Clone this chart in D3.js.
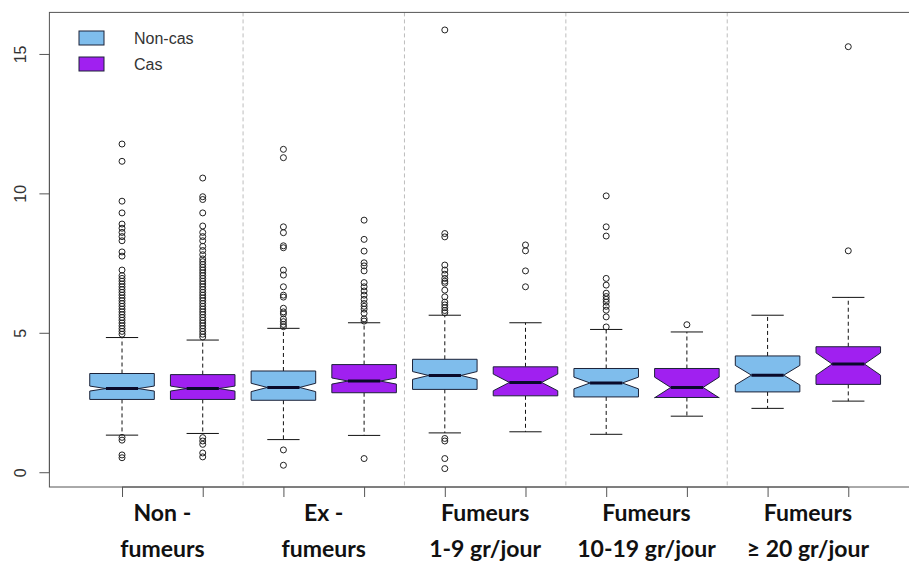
<!DOCTYPE html>
<html>
<head>
<meta charset="utf-8">
<script src="https://cdn.jsdelivr.net/npm/d3@7"></script>
<style>
  body { margin: 0; background: #fff; }
  svg { display: block; }
</style>
</head>
<body>
<div id="chart"></div>
<script>
const width = 909;
const height = 565;

// Données
const categories = [
  ["Non -", "fumeurs"],
  ["Ex -", "fumeurs"],
  ["Fumeurs", "1-9 gr/jour"],
  ["Fumeurs", "10-19 gr/jour"],
  ["Fumeurs", "\u2265 20 gr/jour"]
];
const series = ["Non-cas", "Cas"];
const yTicks = [0, 5, 10, 15];

// [moustache basse, Q1, médiane, Q3, moustache haute, demi-encoche]
const nonCasStats = [
  [1.33, 2.61, 3.00, 3.54, 4.83, 0.09],
  [1.17, 2.58, 3.04, 3.63, 5.16, 0.15],
  [1.41, 2.97, 3.47, 4.05, 5.63, 0.14],
  [1.36, 2.70, 3.20, 3.72, 5.12, 0.21],
  [2.29, 2.88, 3.48, 4.17, 5.63, 0.35]
];
const casStats = [
  [1.39, 2.61, 3.00, 3.50, 4.74, 0.09],
  [1.32, 2.85, 3.27, 3.86, 5.36, 0.11],
  [1.45, 2.74, 3.22, 3.78, 5.36, 0.30],
  [2.01, 2.68, 3.04, 3.72, 5.03, 0.37],
  [2.55, 3.15, 3.88, 4.50, 6.27, 0.40]
];

const nonCasOutliers = [
  [11.77, 11.15, 9.72, 9.30, 8.90, 8.75, 8.60, 8.45, 8.30, 7.90, 7.75, 7.25, 7.05, 6.95,
   6.85, 6.75, 6.65, 6.55, 6.45, 6.35, 6.25, 6.15, 6.05, 5.95, 5.85, 5.75, 5.65, 5.55,
   5.45, 5.35, 5.25, 5.15, 5.05, 4.95, 1.25, 1.15, 0.62, 0.52],
  [11.58, 11.28, 8.80, 8.59, 8.12, 8.05, 7.25, 7.07, 6.65, 6.35, 6.28, 5.88, 5.75, 5.68,
   5.50, 5.40, 5.30, 5.22, 0.80, 0.25],
  [15.86, 8.56, 8.44, 7.43, 7.25, 7.10, 6.95, 6.85, 6.78, 6.53, 6.29, 6.10, 6.00, 5.90,
   5.80, 5.72, 1.21, 1.12, 0.49, 0.13],
  [9.91, 8.80, 8.47, 6.95, 6.71, 6.42, 6.30, 6.20, 6.10, 5.95, 5.81, 5.57, 5.21],
  []
];
const casOutliers = [
  [10.55, 9.88, 9.78, 9.30, 8.83, 8.60, 8.45, 8.30, 8.10, 7.95, 7.80, 7.65, 7.55, 7.45,
   7.35, 7.25, 7.15, 7.05, 6.95, 6.85, 6.75, 6.65, 6.55, 6.45, 6.35, 6.25, 6.15, 6.05,
   5.95, 5.85, 5.75, 5.65, 5.55, 5.45, 5.35, 5.25, 5.15, 5.05, 4.95, 4.85,
   1.24, 1.12, 1.00, 0.69, 0.55],
  [9.04, 8.35, 7.93, 7.51, 7.40, 7.22, 6.80, 6.65, 6.50, 6.35, 6.20, 6.05, 5.95, 5.85,
   5.70, 5.50, 5.42, 0.49],
  [8.15, 7.94, 7.22, 6.65],
  [5.29],
  [15.26, 7.94]
];

const colors = { "Non-cas": "#7fbdec", "Cas": "#a020f0" };

// Une boîte par position (1..10), alternance Non-cas / Cas
const boxes = [];
categories.forEach((c, i) => {
  boxes.push({ pos: 2 * i + 1, serie: "Non-cas", s: nonCasStats[i], out: nonCasOutliers[i] });
  boxes.push({ pos: 2 * i + 2, serie: "Cas", s: casStats[i], out: casOutliers[i] });
});

const svg = d3.select("#chart")
  .append("svg")
  .attr("width", width)
  .attr("height", height);

// Échelles (comme R : étendue des données + 4 %)
const x = d3.scaleLinear().domain([0.1, 10.9]).range([49.4, 920.9]);
const y = d3.scaleLinear().domain([-0.53, 16.49]).range([487, 12.4]);

const wex = (x(1.4) - x(1)); // demi-largeur de boîte (boxwex 0.8)

// Séparateurs pointillés entre catégories
svg.selectAll(".sep")
  .data([2.5, 4.5, 6.5, 8.5])
  .enter()
  .append("line")
  .attr("x1", d => x(d))
  .attr("x2", d => x(d))
  .attr("y1", y.range()[1])
  .attr("y2", y.range()[0])
  .attr("stroke", "#bdbdbd")
  .attr("stroke-dasharray", "4,3");

const g = svg.selectAll(".box")
  .data(boxes)
  .enter()
  .append("g")
  .attr("class", "box");

// Moustaches
g.append("line")
  .attr("x1", d => x(d.pos)).attr("x2", d => x(d.pos))
  .attr("y1", d => y(d.s[3])).attr("y2", d => y(d.s[4]))
  .attr("stroke", "#111").attr("stroke-dasharray", "4,3");
g.append("line")
  .attr("x1", d => x(d.pos)).attr("x2", d => x(d.pos))
  .attr("y1", d => y(d.s[1])).attr("y2", d => y(d.s[0]))
  .attr("stroke", "#111").attr("stroke-dasharray", "4,3");
[0, 4].forEach(k => {
  g.append("line")
    .attr("x1", d => x(d.pos) - wex * 0.5).attr("x2", d => x(d.pos) + wex * 0.5)
    .attr("y1", d => y(d.s[k])).attr("y2", d => y(d.s[k]))
    .attr("stroke", "#111");
});

// Boîte à encoche
g.append("path")
  .attr("d", d => {
    const [lo, q1, med, q3, hi, n] = d.s;
    const cx = x(d.pos);
    const xs = [-1, 1, 1, 0.5, 1, 1, -1, -1, -0.5, -1];
    const ys = [q1, q1, med - n, med, med + n, q3, q3, med + n, med, med - n];
    return "M" + xs.map((v, i) => (cx + v * wex) + "," + y(ys[i])).join("L") + "Z";
  })
  .attr("fill", d => colors[d.serie])
  .attr("stroke", "#1c2238")
  .attr("stroke-width", 1);

// Médiane
g.append("line")
  .attr("x1", d => x(d.pos) - wex * 0.5).attr("x2", d => x(d.pos) + wex * 0.5)
  .attr("y1", d => y(d.s[2])).attr("y2", d => y(d.s[2]))
  .attr("stroke", "#0a0a2a").attr("stroke-width", 3);

// Valeurs extrêmes
g.selectAll("circle")
  .data(d => d.out.map(v => ({ pos: d.pos, v: v })))
  .enter()
  .append("circle")
  .attr("cx", d => x(d.pos))
  .attr("cy", d => y(d.v))
  .attr("r", 3)
  .attr("fill", "none")
  .attr("stroke", "#222")
  .attr("stroke-width", 1);

// Cadre
svg.append("rect")
  .attr("x", x.range()[0])
  .attr("y", y.range()[1])
  .attr("width", x.range()[1] - x.range()[0])
  .attr("height", y.range()[0] - y.range()[1])
  .attr("fill", "none")
  .attr("stroke", "#555");

// Axe Y
const yAxis = svg.append("g")
  .attr("transform", `translate(${x.range()[0]},0)`)
  .call(d3.axisLeft(y).tickValues(yTicks).tickSize(10).tickFormat(""));
yAxis.select(".domain").attr("d", `M0,${y(0)}V${y(15)}`).attr("stroke", "#555");
yAxis.selectAll(".tick line").attr("stroke", "#555");
yAxis.selectAll(".tick")
  .append("text")
  .attr("transform", "translate(-23,0) rotate(-90)")
  .attr("text-anchor", "middle")
  .attr("fill", "#333")
  .style("font-family", "Liberation Sans, Arial, sans-serif")
  .style("font-size", "16px")
  .text(d => d);

// Axe X (graduations seulement)
const xAxis = svg.append("g")
  .attr("transform", `translate(0,${y.range()[0]})`)
  .call(d3.axisBottom(x).tickValues(d3.range(1, 11)).tickSize(10).tickFormat(""));
xAxis.select(".domain").attr("d", `M${x(1)},0H${x(10)}`).attr("stroke", "#555");
xAxis.selectAll(".tick line").attr("stroke", "#555");

// Libellés des catégories
const labels = svg.selectAll(".cat")
  .data(categories)
  .enter()
  .append("text")
  .attr("class", "cat")
  .attr("text-anchor", "middle")
  .attr("fill", "#111")
  .style("font-family", "Lato, sans-serif")
  .style("font-weight", "bold")
  .style("font-size", "23px");
labels.append("tspan")
  .attr("x", (d, i) => x(2 * i + 1.5))
  .attr("y", 521)
  .text(d => d[0]);
labels.append("tspan")
  .attr("x", (d, i) => x(2 * i + 1.5))
  .attr("y", 557)
  .text(d => d[1]);

// Légende
const legend = svg.selectAll(".leg")
  .data(series)
  .enter()
  .append("g")
  .attr("class", "leg")
  .attr("transform", (d, i) => `translate(79,${31 + i * 26})`);
legend.append("rect")
  .attr("width", 25)
  .attr("height", 14)
  .attr("fill", d => colors[d])
  .attr("stroke", "#1c2238");
legend.append("text")
  .attr("x", 55)
  .attr("y", 7)
  .attr("dy", "0.36em")
  .attr("fill", "#333")
  .style("font-family", "Liberation Sans, Arial, sans-serif")
  .style("font-size", "16px")
  .text(d => d);
</script>
</body>
</html>
